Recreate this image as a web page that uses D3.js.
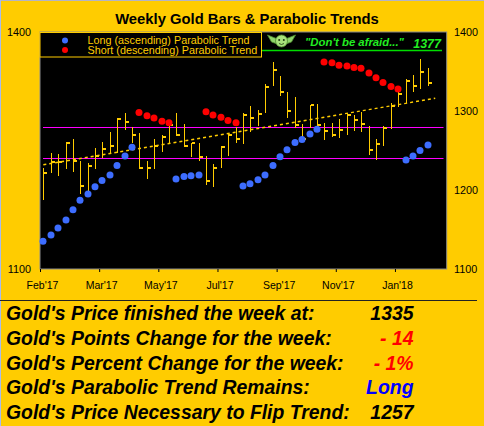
<!DOCTYPE html>
<html><head><meta charset="utf-8">
<script src="https://cdn.jsdelivr.net/npm/d3@7"></script>
<style>html,body{margin:0;padding:0;background:#ffcc00;} svg{display:block;}</style>
</head><body>
<svg id="c" width="484" height="426"></svg>
<script>
// ---------- data ----------
const highs  = [1228,1247,1246,1261,1264,1237,1234,1253,1261,1273,1291,1297,1280,1272,1237,1265,1270,1283,1298,1284,1259,1259,1243,1233,1256,1271,1280,1297,1306,1301,1334,1362,1344,1324,1318,1284,1307,1309,1285,1285,1290,1297,1295,1299,1281,1265,1281,1310,1327,1340,1346,1366,1354];
const lows   = [1187,1221,1218,1227,1223,1195,1196,1227,1241,1246,1247,1276,1260,1226,1214,1227,1248,1259,1268,1254,1242,1237,1206,1204,1228,1243,1260,1258,1273,1281,1298,1332,1319,1291,1279,1263,1278,1277,1263,1267,1266,1270,1275,1273,1244,1238,1256,1277,1305,1310,1324,1328,1332];
const closes = [1222,1235,1236,1259,1237,1205,1230,1243,1252,1256,1290,1286,1270,1228,1228,1256,1267,1282,1269,1256,1259,1242,1212,1228,1255,1270,1265,1295,1291,1296,1331,1352,1324,1300,1282,1265,1307,1282,1275,1270,1276,1295,1289,1284,1251,1258,1278,1306,1321,1338,1332,1349,1335];
const sarValues = [1135,1143,1152,1162,1175,1187,1195,1204,1212,1219,1231,1243,1254,
                   1298,1294,1291,1287,1285,
                   1214,1217,1218,1219,
                   1299,1295,1292,1288,1285,
                   1205,1208,1213,1219,1231,1242,1251,1260,1264,1271,1277,
                   1362,1361,1358,1357,1355,1354,1348,1342,1336,1331,1328,
                   1238,1243,1250,1257];
const sarSide = ["L","L","L","L","L","L","L","L","L","L","L","L","L",
                 "S","S","S","S","S",
                 "L","L","L","L",
                 "S","S","S","S","S",
                 "L","L","L","L","L","L","L","L","L","L","L",
                 "S","S","S","S","S","S","S","S","S","S","S",
                 "L","L","L","L"];
const tickIdx    = [0,8,16,24,32,40,48];
const tickLabels = ["Feb'17","Mar'17","May'17","Jul'17","Sep'17","Nov'17","Jan'18"];
const yTicks     = [1100,1200,1300,1400];
const yTicksLeft = [1100,1400];
const refLevels  = [1280,1240];
const trendLine  = [{i:0,v:1232},{i:53,v:1316}];
const legendLabels = ["Long (ascending) Parabolic Trend","Short (descending) Parabolic Trend"];
const legendColors = ["#3d6dff","#ff0000"];
const quoteText = "\"Don't be afraid...\"";
const quoteValue = "1377";
const summaryLabels = ["Gold's Price finished the week at:","Gold's Points Change for the week:","Gold's Percent Change for the week:","Gold's Parabolic Trend Remains:","Gold's Price Necessary to Flip Trend:"];
const summaryValues = ["1335","- 14","- 1%","Long","1257"];
const summaryColors = ["#000000","#ff0000","#ff0000","#0000ff","#000000"];

// ---------- setup ----------
const FONT = "Arial, 'Liberation Sans', sans-serif";
const svg = d3.select("#c");
const W = 484, H = 426;
const pL = 40, pR = 446.7, pT = 32, pB = 269;
const nSlots = 55;
const x = d3.scaleLinear().domain([0, nSlots]).range([pL, pR]);
const bx = i => Math.round(x(i + 0.45)) + 0.5;
const y = d3.scaleLinear().domain([1100, 1400]).range([pB, pT]);

svg.append("rect").attr("width", W).attr("height", H).attr("fill", "#ffcc00");
svg.append("line").attr("x1",0).attr("x2",W).attr("y1",0.5).attr("y2",0.5).attr("stroke","#b4b4c4");
svg.append("line").attr("x1",0.5).attr("x2",0.5).attr("y1",0).attr("y2",H).attr("stroke","#a8bcec");

// title
svg.append("text").attr("x", 247).attr("y", 23.5).attr("text-anchor","middle")
  .attr("font-family", FONT).attr("font-weight","bold").attr("font-size", 14.8)
  .attr("fill","#000").text("Weekly Gold Bars & Parabolic Trends");

// plot background
svg.append("rect").attr("x", pL).attr("y", pT).attr("width", pR - pL).attr("height", pB - pT)
  .attr("fill","#000").attr("stroke","#8a8a8a").attr("stroke-width",1);

// reference levels
svg.append("g").selectAll("line").data(refLevels).join("line")
  .attr("x1", bx(0) - 0.5).attr("x2", bx(54))
  .attr("y1", d => Math.round(y(d)) + 0.5).attr("y2", d => Math.round(y(d)) + 0.5)
  .attr("stroke","#ff00ff").attr("stroke-width",1.2);

// trend line
svg.append("path").datum(trendLine)
  .attr("d", d3.line().x(d => x(d.i + 0.45)).y(d => y(d.v)))
  .attr("stroke","#ffcc00").attr("stroke-width",1.5).attr("stroke-dasharray","3,3").attr("fill","none");

// bars
const bars = svg.append("g").attr("shape-rendering","crispEdges");
bars.selectAll("line").data(highs).join("line")
  .attr("x1", (d,i) => bx(i)).attr("x2", (d,i) => bx(i))
  .attr("y1", d => y(d)).attr("y2", (d,i) => y(lows[i]))
  .attr("stroke","#ffcc00").attr("stroke-width",1);
bars.selectAll("rect").data(closes).join("rect")
  .attr("x", (d,i) => bx(i) + 0.5).attr("y", d => Math.round(y(d)) - 1)
  .attr("width", 3).attr("height", 2).attr("fill","#ffcc00");

// parabolic dots
svg.append("g").selectAll("circle").data(sarValues).join("circle")
  .attr("cx", (d,i) => bx(i) - 0.5).attr("cy", d => y(d)).attr("r", 3.5)
  .attr("fill", (d,i) => sarSide[i] === "L" ? legendColors[0] : legendColors[1]);

// legend
const lg = svg.append("g");
lg.append("rect").attr("x", pL).attr("y", 32.5).attr("width", 221.5).attr("height", 24.5)
  .attr("fill","#000").attr("stroke","#ffcc00").attr("stroke-width",1);
legendLabels.forEach((t, k) => {
  lg.append("circle").attr("cx", 65).attr("cy", 40.5 + k*9.6).attr("r", 3).attr("fill", legendColors[k]);
  lg.append("text").attr("x", 87.5).attr("y", 44.2 + k*9.6)
    .attr("font-family", FONT).attr("font-size", 10.8).attr("fill","#ffcc00").text(t);
});

// badge (top right)
svg.append("line").attr("x1", 262).attr("x2", 442).attr("y1", 50.5).attr("y2", 50.5)
  .attr("stroke","#00dd00").attr("stroke-width",1.3);
const yo = svg.append("g").attr("transform","translate(281.5,41)");
yo.append("path").attr("d","M-4,-2 L-14,-6 L-10,1 L-4,3 Z").attr("fill","#8fd46a").attr("stroke","#4f8f2f").attr("stroke-width",0.8);
yo.append("path").attr("d","M4,-2 L14,-6 L10,1 L4,3 Z").attr("fill","#8fd46a").attr("stroke","#4f8f2f").attr("stroke-width",0.8);
yo.append("ellipse").attr("rx",6).attr("ry",6).attr("fill","#a8e27c").attr("stroke","#4f8f2f").attr("stroke-width",0.8);
yo.append("circle").attr("cx",-2.3).attr("cy",-1).attr("r",1).attr("fill","#1e3a10");
yo.append("circle").attr("cx",2.3).attr("cy",-1).attr("r",1).attr("fill","#1e3a10");
yo.append("path").attr("d","M-2.5,2.5 Q0,4.5 2.5,2.5").attr("stroke","#1e3a10").attr("stroke-width",0.8).attr("fill","none");
svg.append("text").attr("x", 305).attr("y", 46).attr("font-family", FONT)
  .attr("font-weight","bold").attr("font-style","italic").attr("font-size", 11)
  .attr("textLength", 99).attr("lengthAdjust","spacingAndGlyphs")
  .attr("fill","#22ee22").text(quoteText);
svg.append("text").attr("x", 441).attr("y", 47.5).attr("text-anchor","end").attr("font-family", FONT)
  .attr("font-weight","bold").attr("font-style","italic").attr("font-size", 12.5)
  .attr("fill","#22ee22").text(quoteValue);

// x axis
const xa = svg.append("g").attr("transform", `translate(0,${pB})`)
  .call(d3.axisBottom(x).tickValues(tickIdx).tickFormat((d,i) => tickLabels[i]).tickSize(3));
xa.select(".domain").remove();
xa.selectAll("line").attr("stroke","#000");
xa.selectAll("text").attr("y", 20).attr("dy", 0).attr("x", 2)
  .attr("font-family", FONT).attr("font-size", 10.5).attr("fill","#000");

// y axes
const fmt = d3.format("d");
const ya = svg.append("g").attr("transform", `translate(${pR},0)`)
  .call(d3.axisRight(y).tickValues(yTicks).tickFormat(fmt).tickSize(0).tickPadding(7.3));
ya.select(".domain").remove();
ya.selectAll("text").attr("font-family", FONT).attr("font-size", 10.8).attr("fill","#000");
const yl = svg.append("g").attr("transform", `translate(${pL},0)`)
  .call(d3.axisLeft(y).tickValues(yTicksLeft).tickFormat(fmt).tickSize(0).tickPadding(9));
yl.select(".domain").remove();
yl.selectAll("text").attr("font-family", FONT).attr("font-size", 10.8).attr("fill","#000");

// summary table
svg.append("line").attr("x1", 0).attr("x2", 477).attr("y1", 300.5).attr("y2", 300.5)
  .attr("stroke","#222").attr("stroke-width",1);
const rowsY = [320, 344.7, 369.5, 394.2, 419];
summaryLabels.forEach((t, k) => {
  svg.append("text").attr("x", 6).attr("y", rowsY[k]).attr("font-family", FONT)
    .attr("font-weight","bold").attr("font-style","italic").attr("font-size", 19.4)
    .attr("fill","#000").text(t);
  svg.append("text").attr("x", 413.5).attr("y", rowsY[k]).attr("text-anchor","end").attr("font-family", FONT)
    .attr("font-weight","bold").attr("font-style","italic").attr("font-size", 19.4)
    .attr("fill", summaryColors[k]).text(summaryValues[k]);
});
</script>
</body></html>
